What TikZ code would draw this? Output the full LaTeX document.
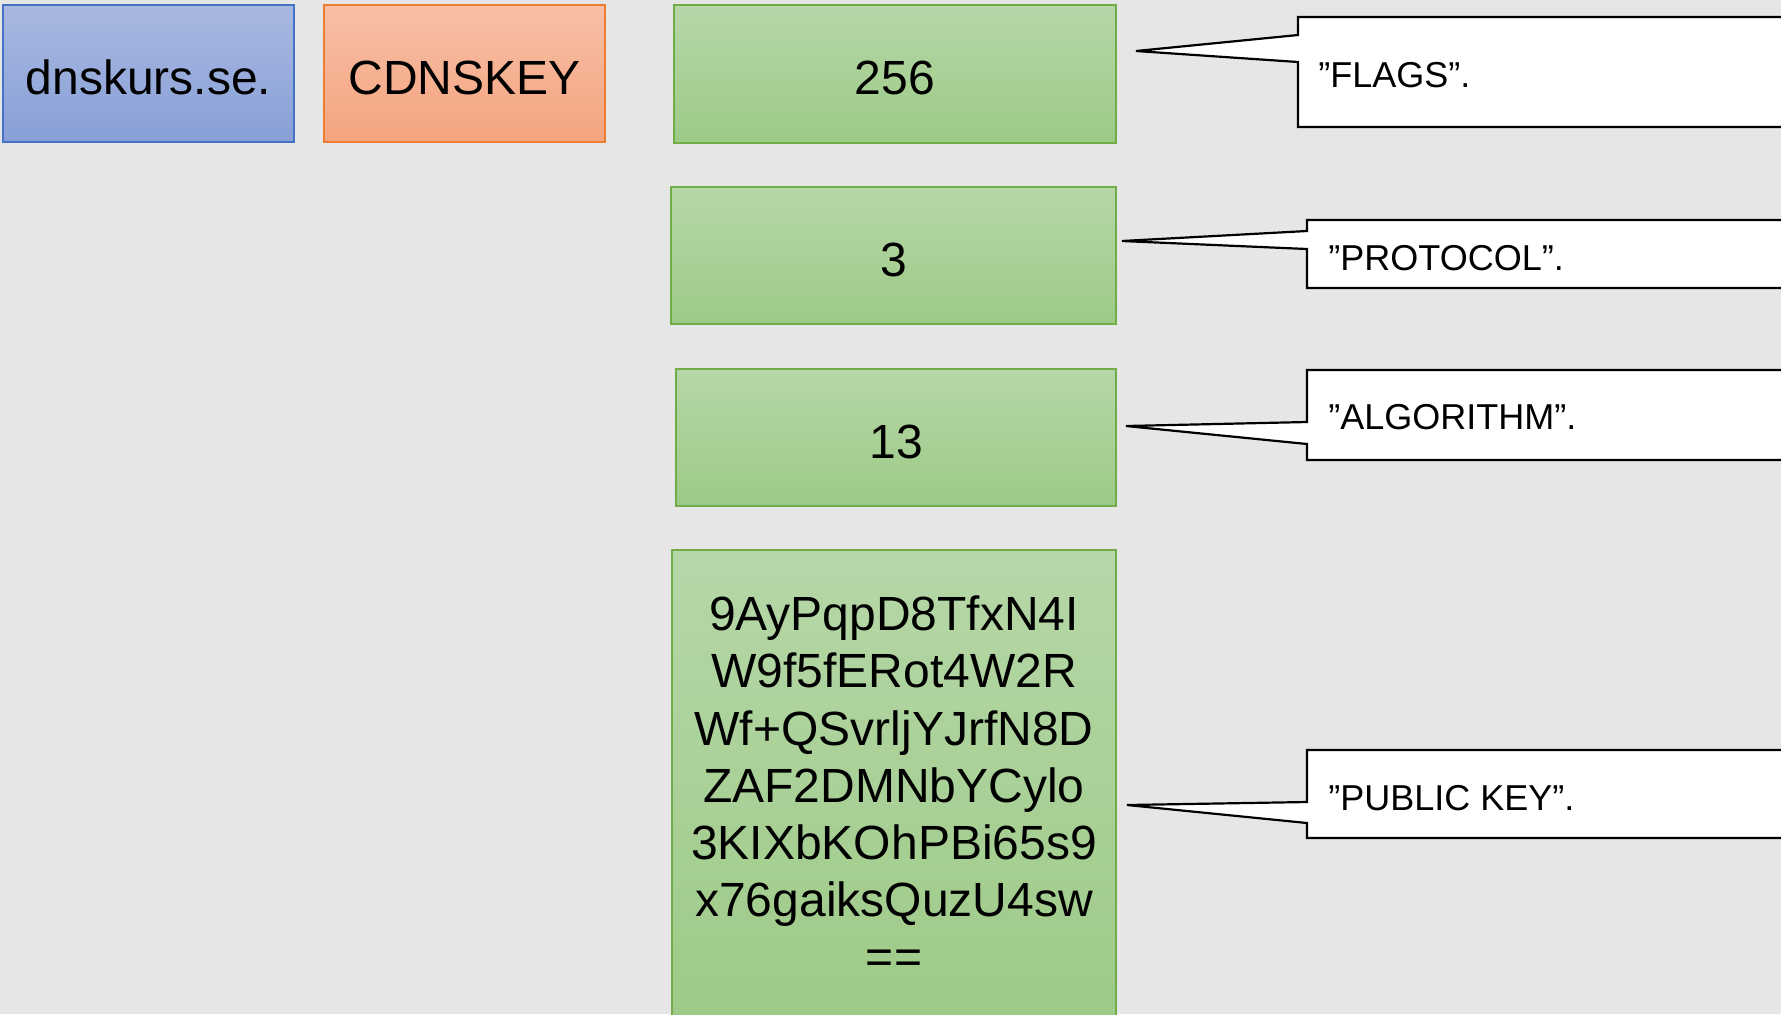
\documentclass[tikz,border=0pt]{standalone}
\usepackage{fontspec}
\setmainfont{Liberation Sans}
\definecolor{bgc}{HTML}{E6E6E6}
\definecolor{blueT}{HTML}{A9B8E1}
\definecolor{blueB}{HTML}{88A0D7}
\definecolor{blueL}{HTML}{4472C4}
\definecolor{orT}{HTML}{F8BFA6}
\definecolor{orB}{HTML}{F4A47F}
\definecolor{orL}{HTML}{ED7D31}
\definecolor{grT}{HTML}{B6D7A8}
\definecolor{grB}{HTML}{9DCA86}
\definecolor{grL}{HTML}{70AD47}
\begin{document}
\begin{tikzpicture}[x=0.5pt,y=-0.5pt,
  bigtext/.style={font=\fontsize{24pt}{28.6pt}\selectfont, text=black},
  boxtext/.style={bigtext, text height=20.5pt, text depth=0pt},
  bluebox/.style={draw=blueL, line width=0.7pt, top color=blueT, bottom color=blueB, inner sep=0pt, boxtext},
  orangebox/.style={draw=orL, line width=0.7pt, top color=orT, bottom color=orB, inner sep=0pt, boxtext},
  greenbox/.style={draw=grL, line width=0.7pt, top color=grT, bottom color=grB, inner sep=0pt, boxtext},
  callout/.style={draw=black, fill=white, line width=1.1pt, line join=miter},
  calltext/.style={font=\fontsize{18pt}{21pt}\selectfont, anchor=base west, inner sep=0pt}
]
\clip (0,0) rectangle (1781,1014);
\fill[bgc] (0,0) rectangle (1781,1014);

% header boxes
\node[bluebox, minimum width=145.5pt, minimum height=68.5pt] (owner) at (148.5,73.5) {dnskurs.se.};
\node[orangebox, minimum width=140.5pt, minimum height=68.5pt] (rtype) at (464.5,73.5) {CDNSKEY};

% field boxes
\node[greenbox, minimum width=221pt, minimum height=69pt] (flags) at (895,74) {256};
\node[greenbox, minimum width=222.5pt, minimum height=68.5pt] (proto) at (893.5,255.5) {3};
\node[greenbox, minimum width=220pt, minimum height=68.5pt] (algo) at (896,437.5) {13};
\node[greenbox, minimum width=222pt, minimum height=240pt] (key) at (894,790) {};
\node[bigtext, align=center, inner sep=0pt] (keytxt) at (894,785) {9AyPqpD8TfxN4I\\W9f5fERot4W2R\\Wf+QSvrljYJrfN8D\\ZAF2DMNbYCylo\\3KIXbKOhPBi65s9\\x76gaiksQuzU4sw\\==};

% callouts
\coordinate (tipF) at (1136,51);
\draw[callout] (1298,17) -- (1800,17) -- (1800,127) -- (1298,127) -- (1298,62) -- (tipF) -- (1298,35) -- cycle;
\node[calltext] (cF) at (1318,87) {”FLAGS”.};

\coordinate (tipP) at (1122,241);
\draw[callout] (1307,220) -- (1800,220) -- (1800,288) -- (1307,288) -- (1307,249) -- (tipP) -- (1307,231) -- cycle;
\node[calltext] (cP) at (1328,270) {”PROTOCOL”.};

\coordinate (tipA) at (1126,426);
\draw[callout] (1307,370) -- (1800,370) -- (1800,460) -- (1307,460) -- (1307,444) -- (tipA) -- (1307,422) -- cycle;
\node[calltext] (cA) at (1328,429) {”ALGORITHM”.};

\coordinate (tipK) at (1127,805);
\draw[callout] (1307,750) -- (1800,750) -- (1800,838) -- (1307,838) -- (1307,823) -- (tipK) -- (1307,802) -- cycle;
\node[calltext] (cK) at (1328,810) {”PUBLIC KEY”.};
\end{tikzpicture}
\end{document}
